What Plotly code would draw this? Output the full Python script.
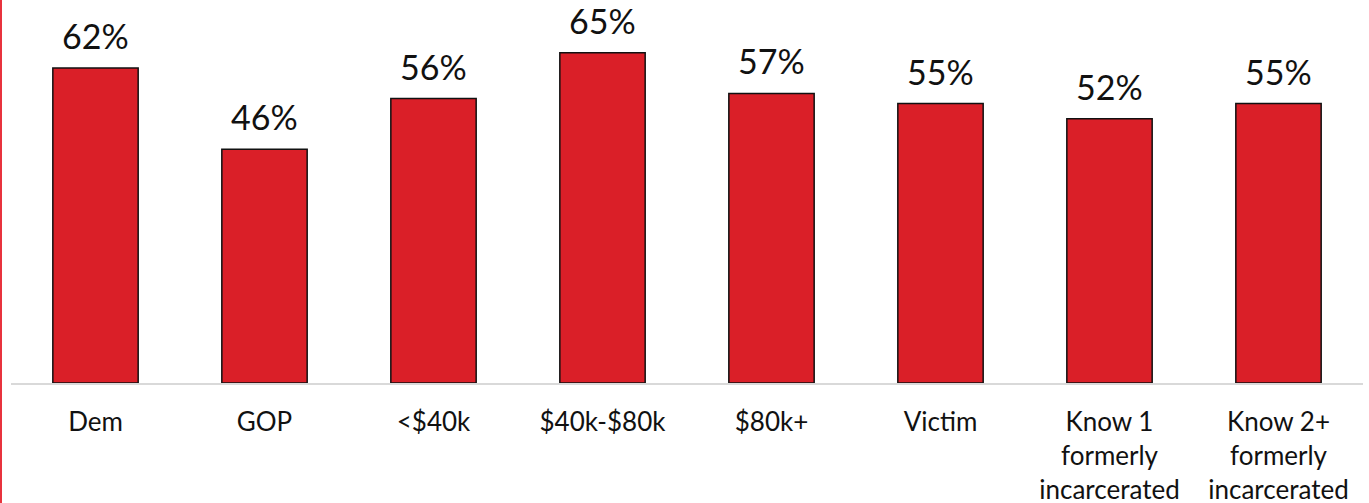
import plotly.graph_objects as go

categories = ["Dem", "GOP", "<$40k", "$40k-$80k", "$80k+", "Victim",
              "Know 1<br>formerly<br>incarcerated", "Know 2+<br>formerly<br>incarcerated"]
values = [62, 46, 56, 65, 57, 55, 52, 55]
labels = [f"{v}%" for v in values]

W, H = 1369, 503
ml, mr, mt, mb = 11, 6, 0, 120
pw = W - ml - mr

fig = go.Figure(go.Bar(
    x=categories, y=values,
    width=0.505,
    marker=dict(color="#DA1F28", line=dict(color="#111111", width=1.5)),
    hoverinfo="x+y",
))

for c, v, t in zip(categories, values, labels):
    fig.add_annotation(x=c, y=v, text=t, showarrow=False,
                       yanchor="bottom", yshift=10,
                       font=dict(family="Lato, sans-serif", size=34, color="#111111"))

fig.update_layout(
    width=W, height=H,
    margin=dict(l=ml, r=mr, t=mt, b=mb, autoexpand=False),
    plot_bgcolor="white", paper_bgcolor="white",
    showlegend=False,
    xaxis=dict(
        showline=True, linecolor="#D9D9D9", linewidth=2,
        ticks="outside", ticklen=15, tickcolor="rgba(0,0,0,0)",
        tickfont=dict(family="Lato, sans-serif", size=26, color="#111111"),
        showgrid=False, zeroline=False, automargin=False,
    ),
    yaxis=dict(range=[0, 75.4], visible=False, showgrid=False),
)

fig.add_shape(type="line", xref="paper", yref="paper",
              x0=(1 - ml) / pw, x1=(1 - ml) / pw, y0=-mb / (H - mt - mb), y1=1,
              line=dict(color="#E8333D", width=2))

fig.write_html("out.html", config={"displayModeBar": False},
               post_script="document.body.style.margin='0px';document.body.style.overflow='hidden';")
